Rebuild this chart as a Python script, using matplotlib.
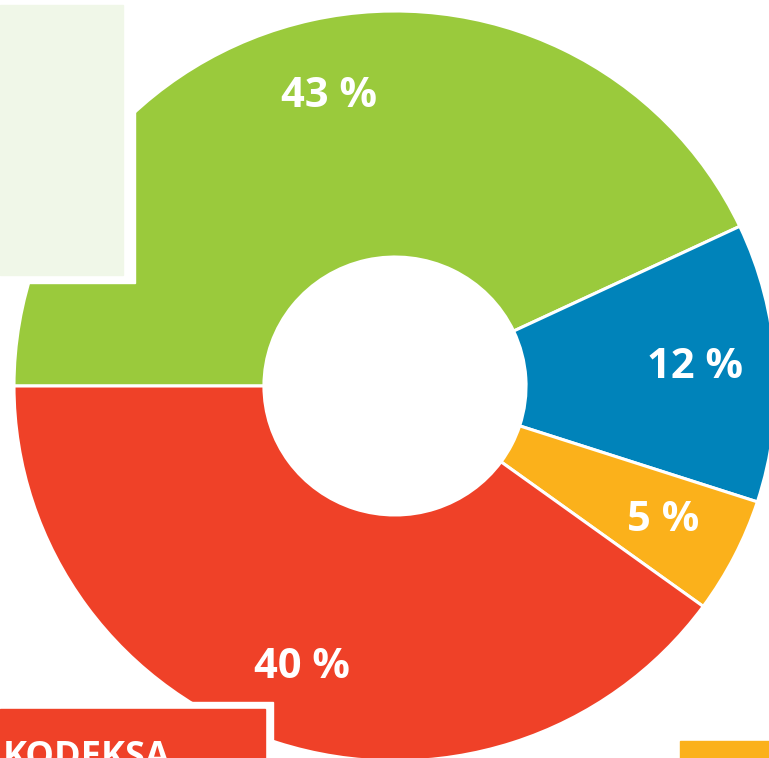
import matplotlib
matplotlib.use("Agg")
import matplotlib.pyplot as plt
from matplotlib.patches import Rectangle

# 数据
shares = [43, 12, 5, 40]
colors = ["#9aca3c", "#0083ba", "#fbb11b", "#ef4128"]
box_label = "KODEKSA"

W, H = 769, 758
fig = plt.figure(figsize=(W / 100, H / 100), dpi=100)
ax = fig.add_axes([0, 0, 1, 1])

# 饼图中心与半径（像素）
cx, cy, rx, ry = 395, 386, 381, 375

wedges, texts, autotexts = ax.pie(
    shares,
    colors=colors,
    startangle=180,
    counterclock=False,
    radius=1.0,
    wedgeprops=dict(width=0.656, edgecolor="white", linewidth=2.2),
    autopct=lambda p: f"{p:.0f} %",
    pctdistance=0.79,
    textprops=dict(color="white", fontsize=30, fontweight="bold", family=["Open Sans", "DejaVu Sans"]),
)

ax.set_aspect("auto")
ax.set_xlim(-cx / rx, (W - cx) / rx)
ax.set_ylim(-(H - cy) / ry, cy / ry)
ax.axis("off")


def px_rect(x0, y0, x1, y1, color):
    """像素坐标矩形（左上原点）"""
    fig.patches.append(Rectangle((x0 / W, 1 - y1 / H), (x1 - x0) / W, (y1 - y0) / H,
                                 transform=fig.transFigure, color=color, zorder=5))


# 左上角图例框
px_rect(0, 0, 135, 283, "white")
px_rect(0, 5, 123, 275, "#f0f7e8")

# 左下角红色标题框
px_rect(0, 702, 273, H, "white")
px_rect(0, 709, 265, H, "#ef4128")
fig.text(3 / W, 1 - 740 / H, box_label, color="white", fontsize=26, fontweight="bold",
         family=["Open Sans", "DejaVu Sans"], va="top", ha="left", zorder=6)

# 右下角橙色框
px_rect(680, 741, W, H, "#fbb11b")

plt.savefig("out.png", dpi=100)
plt.close()
